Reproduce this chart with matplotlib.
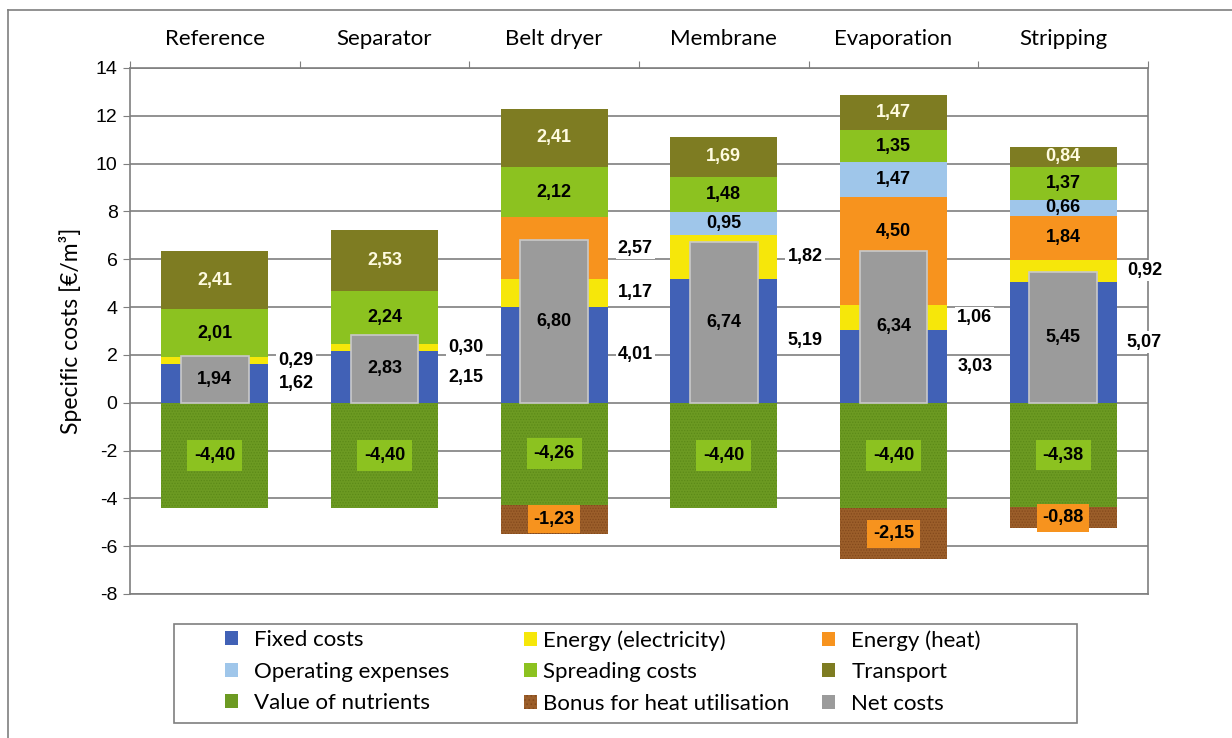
import matplotlib
matplotlib.use("Agg")
import matplotlib.pyplot as plt
from matplotlib.patches import Patch
from matplotlib.lines import Line2D
import numpy as np

# ---- data ---------------------------------------------------------------
categories = ["Reference", "Separator", "Belt dryer", "Membrane", "Evaporation", "Stripping"]

fixed_costs   = [1.62, 2.15, 4.01, 5.19, 3.03, 5.07]
energy_elec   = [0.29, 0.30, 1.17, 1.82, 1.06, 0.92]
energy_heat   = [0.00, 0.00, 2.57, 0.00, 4.50, 1.84]
operating_exp = [0.00, 0.00, 0.00, 0.95, 1.47, 0.66]
spreading     = [2.01, 2.24, 2.12, 1.48, 1.35, 1.37]
transport     = [2.41, 2.53, 2.41, 1.69, 1.47, 0.84]
nutrients     = [-4.40, -4.40, -4.26, -4.40, -4.40, -4.38]
heat_bonus    = [0.00, 0.00, -1.23, 0.00, -2.15, -0.88]
net_costs     = [1.94, 2.83, 6.80, 6.74, 6.34, 5.45]

y_ticks = [-8, -6, -4, -2, 0, 2, 4, 6, 8, 10, 12, 14]

# ---- styling ------------------------------------------------------------
C_FIXED = "#4161b6"
C_ELEC = "#f6e70a"
C_HEAT = "#f7931e"
C_OPEX = "#9fc6ea"
C_SPREAD = "#8cc220"
C_TRANS = "#7e7c22"
C_NUTR = "#6c9a22"
C_BONUS = "#9b5e2a"
C_NET = "#9b9b9b"
GRID = "#7f7f7f"

plt.rcParams["hatch.linewidth"] = 0.6
VAL_FONT = ["Liberation Sans", "DejaVu Sans"]
TXT_FONT = ["Lato", "DejaVu Sans"]

fig = plt.figure(figsize=(12.32, 7.38), dpi=100)
fig.patch.set_facecolor("white")
ax = fig.add_axes([130 / 1232, 144 / 738, 1018 / 1232, 526 / 738])

x = np.arange(len(categories))
bw = 0.63
nw = 0.40

def fmt(v):
    return f"{v:.2f}".replace(".", ",")

# positive stacks
stack = [
    (fixed_costs, C_FIXED, "Fixed costs"),
    (energy_elec, C_ELEC, "Energy (electricity)"),
    (energy_heat, C_HEAT, "Energy (heat)"),
    (operating_exp, C_OPEX, "Operating expenses"),
    (spreading, C_SPREAD, "Spreading costs"),
    (transport, C_TRANS, "Transport"),
]
bottom = np.zeros(len(categories))
bottoms = {}
for vals, col, name in stack:
    vals = np.array(vals)
    ax.bar(x, vals, bw, bottom=bottom, color=col, linewidth=0, zorder=3)
    bottoms[name] = bottom.copy()
    bottom = bottom + vals

# negative stacks with fine texture
nutr = np.array(nutrients)
bonus = np.array(heat_bonus)
ax.bar(x, nutr, bw, color=C_NUTR, edgecolor="#5c8a18", linewidth=0,
       hatch="......", zorder=3)
ax.bar(x, bonus, bw, bottom=nutr, color=C_BONUS, edgecolor="#83491c", linewidth=0,
       hatch="......", zorder=3)

# net cost bars
net = np.array(net_costs)
ax.bar(x, net, nw, color=C_NET, edgecolor="#c9c9c9", linewidth=1.2, zorder=4)

# ---- labels -------------------------------------------------------------
lab_kw = dict(fontsize=13, fontweight="bold", family=VAL_FONT, zorder=6)
side_box = dict(facecolor="white", edgecolor="none", pad=1.5)
for i in range(len(categories)):
    xs = x[i] + bw / 2 + 0.06
    # inside labels for the upper segments
    for vals, col, name in stack[2:]:
        v = vals[i]
        if v <= 0:
            continue
        lo = bottoms[name][i]
        hi = lo + v
        yc = (lo + hi) / 2
        tc = "#fffbe0" if name == "Transport" else "black"
        if net[i] >= yc - 0.3:
            # segment partly hidden behind the net-cost bar
            if hi - net[i] > 1.5:
                yc = (net[i] + hi) / 2 - 0.3
            else:
                ax.text(xs, yc, fmt(v), ha="left", va="center", bbox=side_box, **lab_kw)
                continue
        ax.text(x[i], yc, fmt(v), ha="center", va="center", color=tc, **lab_kw)

    # side labels for fixed costs and electricity
    y_fix = fixed_costs[i] / 2
    y_ele = fixed_costs[i] + energy_elec[i] / 2
    y_ele = max(y_ele, y_fix + 0.8)
    ax.text(xs, y_fix, fmt(fixed_costs[i]), ha="left", va="center", bbox=side_box, **lab_kw)
    ax.text(xs, y_ele, fmt(energy_elec[i]), ha="left", va="center", bbox=side_box, **lab_kw)

    # net costs
    ax.text(x[i], net[i] / 2, fmt(net[i]), ha="center", va="center", color="black", **lab_kw)

    # nutrients
    ax.text(x[i], nutr[i] / 2, fmt(nutr[i]), ha="center", va="center",
            bbox=dict(facecolor=C_SPREAD, edgecolor="none", pad=5), **lab_kw)
    # heat bonus
    if bonus[i] < 0:
        ax.text(x[i], nutr[i] + bonus[i] / 2, fmt(bonus[i]), ha="center", va="center",
                bbox=dict(facecolor=C_HEAT, edgecolor="none", pad=4), **lab_kw)

# ---- axes ---------------------------------------------------------------
ax.set_xlim(-0.5, len(categories) - 0.5)
ax.set_ylim(-8, 14)
ax.set_yticks(y_ticks)
ax.set_yticklabels([str(t) for t in y_ticks], family=VAL_FONT, fontsize=14)
ax.yaxis.grid(True, color=GRID, linewidth=1.2, zorder=0)
ax.set_axisbelow(True)
ax.tick_params(axis="y", length=5, color=GRID, pad=4, direction="out")

ax.xaxis.tick_top()
ax.set_xticks(np.arange(-0.5, len(categories)), minor=False)
ax.set_xticklabels([])
ax.set_xticks(x, minor=True)
ax.set_xticklabels(categories, minor=True, family=TXT_FONT, fontsize=16)
ax.tick_params(axis="x", which="major", length=5, color=GRID, direction="out")
ax.tick_params(axis="x", which="minor", length=0, pad=14)

for s in ax.spines.values():
    s.set_color(GRID)
    s.set_linewidth(1.2)

ax.set_ylabel("Specific costs [€/m³]", family=TXT_FONT, fontsize=16.5, labelpad=10)

# ---- legend (three columns) ----------------------------------------------
def h(col, hatch=None, ec=None):
    return Patch(facecolor=col, edgecolor=ec if ec else col, hatch=hatch, linewidth=0)

legend_cols = [
    ([h(C_FIXED), h(C_OPEX), h(C_NUTR)],
     ["Fixed costs", "Operating expenses", "Value of nutrients"], 225, 0.7),
    ([h(C_ELEC), h(C_SPREAD), h(C_BONUS, "....", "#83491c")],
     ["Energy (electricity)", "Spreading costs", "Bonus for heat utilisation"], 524, 0.25),
    ([h(C_HEAT), h(C_TRANS), h(C_NET)],
     ["Energy (heat)", "Transport", "Net costs"], 822, 0.72),
]
for hs, ls, xpx, tp in legend_cols:
    lg = fig.legend(hs, ls, ncol=1, loc="upper left",
                    bbox_to_anchor=(xpx / 1232, 1 - 630 / 738), frameon=False,
                    prop={"family": TXT_FONT, "size": 16},
                    handlelength=0.6, handleheight=0.6, handletextpad=tp,
                    labelspacing=0.52, borderpad=0.0, borderaxespad=0.0)

# legend frame and outer frame
fig.add_artist(plt.Rectangle((174 / 1232, 1 - 723 / 738), 903 / 1232, 99 / 738,
                             transform=fig.transFigure, fill=False,
                             edgecolor=GRID, linewidth=1.2))
fig.add_artist(Line2D([8 / 1232, 1], [1 - 10 / 738, 1 - 10 / 738],
                      transform=fig.transFigure, color=GRID, linewidth=1.2))
fig.add_artist(Line2D([8 / 1232, 8 / 1232], [0, 1 - 10 / 738],
                      transform=fig.transFigure, color=GRID, linewidth=1.2))

fig.savefig("out.png", dpi=100)
